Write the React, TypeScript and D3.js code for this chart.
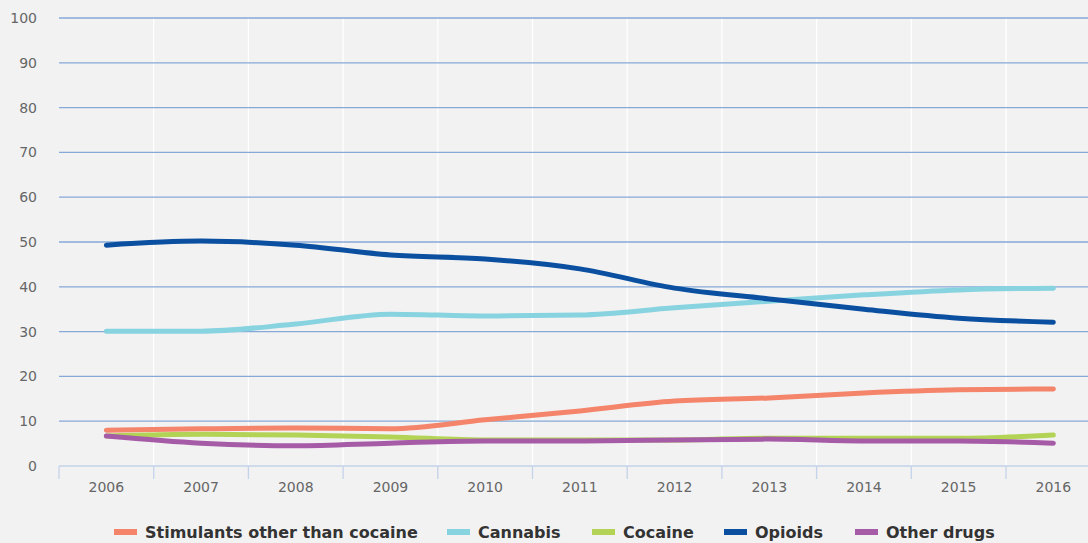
import React from "react";
import * as d3 from "d3";

const years = ["2006", "2007", "2008", "2009", "2010", "2011", "2012", "2013", "2014", "2015", "2016"];
const yTicks = [0, 10, 20, 30, 40, 50, 60, 70, 80, 90, 100];

const stimulants = [8.0, 8.3, 8.5, 8.3, 10.3, 12.3, 14.5, 15.2, 16.3, 17.0, 17.2];
const cannabis = [30.1, 30.1, 31.7, 33.9, 33.5, 33.7, 35.3, 36.8, 38.2, 39.3, 39.7];
const cocaine = [6.7, 7.1, 6.9, 6.5, 5.8, 5.8, 5.8, 6.2, 6.2, 6.2, 6.9];
const opioids = [49.3, 50.2, 49.3, 47.1, 46.2, 44.0, 39.7, 37.3, 35.0, 33.0, 32.1];
const otherDrugs = [6.7, 5.1, 4.5, 5.1, 5.6, 5.6, 5.8, 6.0, 5.6, 5.6, 5.1];

const seriesNames = ["Stimulants other than cocaine", "Cannabis", "Cocaine", "Opioids", "Other drugs"];
const seriesColors = ["#f4846a", "#88d3e0", "#b2d355", "#0a4fa0", "#a65ba6"];
const seriesValues = [stimulants, cannabis, cocaine, opioids, otherDrugs];
// drawing order (opioids & cannabis behind small ones)
const drawOrder = [1, 3, 0, 2, 4];

const W = 1088;
const H = 543;
const left = 59;
const top = 18;
const bottom = 466;
const bandW = 94.7;
const font = "'DejaVu Sans', Verdana, sans-serif";

export default function App() {
  const x = d3
    .scaleBand<string>()
    .domain(years)
    .range([left, left + bandW * years.length])
    .paddingInner(0)
    .paddingOuter(0);
  const y = d3.scaleLinear().domain([0, 100]).range([bottom, top]);
  const line = d3
    .line<number>()
    .x((_, i) => (x(years[i]) as number) + x.bandwidth() / 2)
    .y((d) => y(d))
    .curve(d3.curveMonotoneX);

  const legendItems = [
    { sx: 114, tx: 145 },
    { sx: 447, tx: 478 },
    { sx: 592, tx: 623 },
    { sx: 724, tx: 755 },
    { sx: 855, tx: 886 },
  ];

  return (
    <div style={{ position: "fixed", left: 0, top: 0 }}>
      <svg width={W} height={H} style={{ display: "block", background: "#f2f2f2" }}>
        <rect x={0} y={0} width={W} height={H} fill="#f2f2f2" />
        {/* vertical white grid */}
        {years.slice(1).map((yr) => (
          <line
            key={"v" + yr}
            x1={x(yr) as number}
            x2={x(yr) as number}
            y1={top}
            y2={bottom}
            stroke="#ffffff"
            strokeWidth={1.3}
          />
        ))}
        {/* horizontal grid */}
        {yTicks.slice(1).map((t) => (
          <line
            key={"h" + t}
            x1={left}
            x2={W}
            y1={y(t)}
            y2={y(t)}
            stroke="#86a9d8"
            strokeWidth={1.3}
          />
        ))}
        {/* x axis */}
        <line x1={left} x2={W} y1={bottom} y2={bottom} stroke="#c3d3ea" strokeWidth={1.5} />
        {years.map((yr) => (
          <line
            key={"t" + yr}
            x1={x(yr) as number}
            x2={x(yr) as number}
            y1={bottom}
            y2={bottom + 13}
            stroke="#c3d3ea"
            strokeWidth={1.3}
          />
        ))}
        {/* y labels */}
        {yTicks.map((t) => (
          <text
            key={"yl" + t}
            x={37}
            y={y(t) + 5}
            textAnchor="end"
            fontFamily={font}
            fontSize={14}
            fill="#666666"
          >
            {t}
          </text>
        ))}
        {/* x labels */}
        {years.map((yr) => (
          <text
            key={"xl" + yr}
            x={(x(yr) as number) + x.bandwidth() / 2}
            y={492}
            textAnchor="middle"
            fontFamily={font}
            fontSize={14}
            fill="#666666"
          >
            {yr}
          </text>
        ))}
        {/* lines */}
        {drawOrder.map((si) => (
          <path
            key={"s" + si}
            d={line(seriesValues[si]) || ""}
            fill="none"
            stroke={seriesColors[si]}
            strokeWidth={5}
            strokeLinecap="round"
            strokeLinejoin="round"
          />
        ))}
        {/* legend */}
        {seriesNames.map((n, i) => (
          <g key={"lg" + i}>
            <rect x={legendItems[i].sx} y={529} width={23} height={6} fill={seriesColors[i]} />
            <text
              x={legendItems[i].tx}
              y={538}
              fontFamily={font}
              fontSize={16}
              fontWeight="bold"
              fill="#333333"
            >
              {n}
            </text>
          </g>
        ))}
      </svg>
    </div>
  );
}
